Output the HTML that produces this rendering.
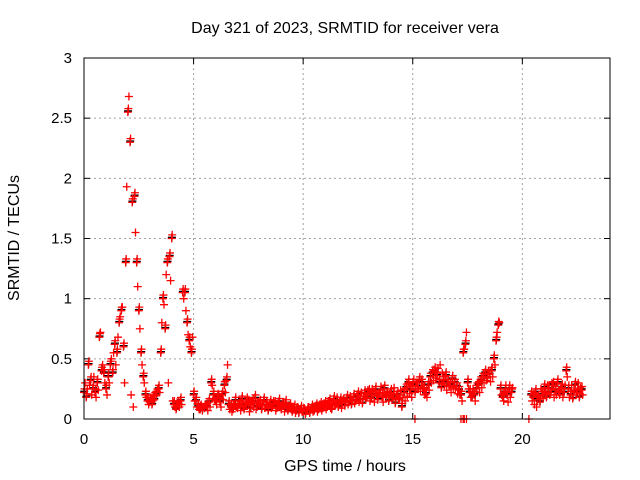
<!DOCTYPE html>
<html><head><meta charset="utf-8"><style>
html,body{margin:0;padding:0;background:#fff;}
svg{display:block;font-family:"Liberation Sans",sans-serif;}
</style></head><body>
<svg id="chart" width="640" height="480">
<rect x="0" y="0" width="640" height="480" fill="#fff"/>
<g id="grid"></g><g id="ticks"></g><g id="marks"></g>
<rect x="84" y="58" width="526" height="361" fill="none" stroke="#000" stroke-width="1"/>
<text x="345" y="33" font-size="16" text-anchor="middle">Day 321 of 2023, SRMTID for receiver vera</text>
<text x="345" y="471" font-size="16" text-anchor="middle">GPS time / hours</text>
<text transform="translate(19,238) rotate(-90)" font-size="16" text-anchor="middle">SRMTID / TECUs</text>
</svg>
<script>
const xTicks=[0,5,10,15,20];
const yTicks=[0,0.5,1,1.5,2,2.5,3];
const yTickLabels=["0","0.5","1","1.5","2","2.5","3"];
const hours=[0.0,0.1,0.2,0.3,0.4,0.5,0.6,0.7,0.8,0.9,1.0,1.1,1.2,1.3,1.4,1.5,1.6,1.7,1.8,1.9,2.0,2.1,2.2,2.3,2.4,2.5,2.6,2.7,2.8,2.9,3.0,3.1,3.2,3.3,3.4,3.5,3.6,3.7,3.8,3.9,4.0,4.1,4.2,4.3,4.4,4.5,4.6,4.7,4.8,4.9,5.0,5.1,5.2,5.3,5.4,5.5,5.6,5.7,5.8,5.9,6.0,6.1,6.2,6.3,6.4,6.5,6.6,6.7,6.8,6.9,7.0,7.1,7.2,7.3,7.4,7.5,7.6,7.7,7.8,7.9,8.0,8.1,8.2,8.3,8.4,8.5,8.6,8.7,8.8,8.9,9.0,9.1,9.2,9.3,9.4,9.5,9.6,9.7,9.8,9.9,10.0,10.1,10.2,10.3,10.4,10.5,10.6,10.7,10.8,10.9,11.0,11.1,11.2,11.3,11.4,11.5,11.6,11.7,11.8,11.9,12.0,12.1,12.2,12.3,12.4,12.5,12.6,12.7,12.8,12.9,13.0,13.1,13.2,13.3,13.4,13.5,13.6,13.7,13.8,13.9,14.0,14.1,14.2,14.3,14.4,14.5,14.6,14.7,14.8,14.9,15.0,15.1,15.2,15.3,15.4,15.5,15.6,15.7,15.8,15.9,16.0,16.1,16.2,16.3,16.4,16.5,16.6,16.7,16.8,16.9,17.0,17.1,17.2,17.3,17.4,17.5,17.6,17.7,17.8,17.9,18.0,18.1,18.2,18.3,18.4,18.5,18.6,18.7,18.8,18.9,19.0,19.1,19.2,19.3,19.4,19.5,20.4,20.5,20.6,20.7,20.8,20.9,21.0,21.1,21.2,21.3,21.4,21.5,21.6,21.7,21.8,21.9,22.0,22.1,22.2,22.3,22.4,22.5,22.6,22.7];
const tecuA=[.22,.18,.45,.32,.25,.22,.30,.68,.40,.38,.25,.35,.45,.38,.62,.55,.80,.90,.60,1.30,2.55,2.30,1.80,1.85,1.30,.90,.55,.35,.20,.15,.14,.12,.16,.20,.25,.55,1.00,.75,1.30,1.35,1.50,.12,.08,.12,.15,1.05,1.05,.80,.65,.55,.20,.15,.10,.08,.07,.09,.10,.14,.30,.20,.15,.18,.14,.20,.28,.32,.12,.10,.08,.15,.09,.12,.16,.08,.11,.13,.09,.14,.17,.10,.12,.08,.15,.11,.07,.13,.10,.12,.09,.14,.08,.11,.13,.07,.10,.06,.09,.07,.05,.08,.06,.04,.07,.05,.09,.07,.10,.08,.11,.09,.12,.10,.14,.08,.16,.12,.10,.15,.13,.11,.17,.14,.12,.18,.15,.20,.16,.13,.21,.18,.22,.17,.20,.24,.16,.21,.18,.25,.19,.15,.22,.18,.13,.20,.17,.10,.22,.26,.30,.24,.28,.22,.27,.32,.30,.25,.21,.28,.35,.38,.40,.36,.30,.26,.32,.36,.30,.28,.33,.30,.27,.24,.20,.55,.62,.30,.22,.18,.20,.25,.28,.32,.35,.38,.34,.37,.40,.50,.65,.78,.25,.18,.22,.20,.25,.22,.20,.18,.22,.16,.14,.20,.26,.18,.25,.22,.28,.24,.30,.20,.26,.22,.40,.25,.20,.17,.28,.22,.18,.24];
const tecuB=[.30,.25,.28,.20,.35,.18,.24,.72,.45,.30,.20,.30,.50,.55,.45,.68,.85,.93,.30,1.93,2.68,.20,.10,1.55,1.10,.75,.45,.30,.18,.12,.18,.20,.22,.25,.22,.80,.95,1.20,.30,1.15,.15,.10,.14,.10,.12,1.00,.90,.70,.60,.68,.15,.10,.08,.12,.10,.12,.07,.10,.28,.16,.12,.20,.10,.16,.22,.45,.08,.06,.12,.10,.13,.07,.10,.14,.18,.06,.15,.10,.08,.13,.16,.11,.09,.14,.12,.09,.15,.07,.13,.10,.12,.06,.09,.11,.08,.10,.05,.10,.08,.06,.09,.07,.10,.08,.06,.11,.06,.12,.07,.13,.08,.15,.09,.12,.11,.18,.14,.09,.17,.15,.12,.19,.16,.13,.20,.14,.22,.19,.17,.24,.15,.25,.14,.19,.22,.27,.14,.20,.23,.21,.17,.26,.20,.16,.24,.18,.15,.19,.21,.18,.33,.30,.25,.23,.26,.20,.18,.24,.30,.32,.34,.42,.45,.38,.28,.24,.27,.22,.26,.25,.21,.20,.15,.58,.72,.25,.18,.25,.15,.30,.22,.26,.30,.32,.40,.31,.35,.45,.72,.80,.20,.15,.28,.14,.18,.26,.15,.12,.10,.20,.25,.17,.22,.28,.20,.30,.18,.20,.22,.25,.18,.28,.35,.18,.28,.24,.22,.30,.26,.20];
const zeroHours=[15.1,17.2,17.3,17.35,17.45,20.3];
const zeroValues=[0,0,0,0,0,0];

const X0=84,X1=610,Y0=419,Y1=58,XMAX=24,YMAX=3;
function xs(h){return X0+(X1-X0)*h/XMAX;}
function ys(v){return Y0-(Y0-Y1)*v/YMAX;}
const NS="http://www.w3.org/2000/svg";
const grid=document.getElementById('grid'),ticks=document.getElementById('ticks'),marks=document.getElementById('marks');
function mk(tag,attrs,parent){const e=document.createElementNS(NS,tag);for(const k in attrs)e.setAttribute(k,attrs[k]);parent.appendChild(e);return e;}
xTicks.forEach(function(t){
  const x=xs(t);
  if(t>0){const g=mk('line',{x1:x,x2:x,y1:Y1,y2:Y0,stroke:'#a0a0a0','stroke-dasharray':'2,3','stroke-width':1},grid);
  
  }
  mk('line',{x1:x,x2:x,y1:Y0,y2:Y0-6,stroke:'#000'},ticks);
  mk('line',{x1:x,x2:x,y1:Y1,y2:Y1+6,stroke:'#000'},ticks);
  const l=mk('text',{x:x,y:Y0+25,'font-size':15,'text-anchor':'middle'},ticks);
  l.textContent=String(t);
  
  
});
yTicks.forEach(function(v,i){
  const y=ys(v);
  if(v>0&&v<YMAX){const g=mk('line',{x1:X0,x2:X1,y1:y,y2:y,stroke:'#a0a0a0','stroke-dasharray':'2,3','stroke-width':1},grid);
  
  }
  mk('line',{x1:X0,x2:X0+6,y1:y,y2:y,stroke:'#000'},ticks);
  mk('line',{x1:X1,x2:X1-6,y1:y,y2:y,stroke:'#000'},ticks);
  const l=mk('text',{x:X0-12,y:y+5,'font-size':15,'text-anchor':'end'},ticks);
  l.textContent=yTickLabels[i];
  
  
});
function plus(h,v,color){
  const x=xs(h),y=ys(v);
  const p=mk('path',{d:'M'+(x-4)+' '+y+'H'+(x+4)+'M'+x+' '+(y-4)+'V'+(y+4),stroke:color,'stroke-width':1.3,fill:'none'},marks);
  
  
}
hours.forEach(function(h,i){plus(h+0.01,tecuA[i]+0.01,'#000');});
hours.forEach(function(h,i){plus(h,tecuA[i],'#f00');plus(h+0.05,tecuB[i],'#f00');plus(h+0.025,tecuA[i]+0.03,'#f00');});
zeroHours.forEach(function(h,i){plus(h,zeroValues[i],'#f00');});
</script>
</body></html>
